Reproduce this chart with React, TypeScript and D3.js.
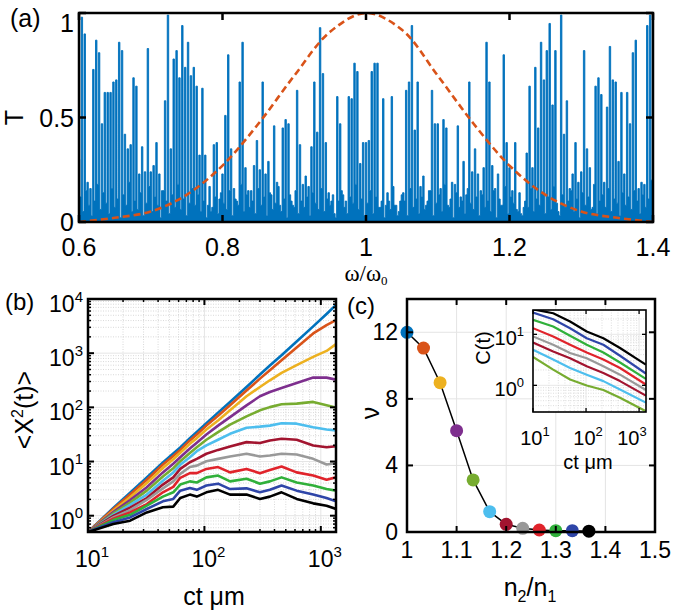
import React from "react";
import * as d3 from "d3";

// ---------------- data: panel (a) ----------------
const transOmegaStart = 0.6;
const transOmegaStep = 0.004;
const transPeaks = [
  0.3, 0.98, 0.9, 0.19, 0.16, 0.73, 0.87, 0.81, 0.47, 0.62, 0.62, 0.62, 0.67, 0.68, 0.86, 0.82, 0.42, 0.35, 0.37, 0.69,
  0.65, 0.23, 0.36, 0.24, 0.83, 0.24, 0.27, 0.38, 0.23, 0.15, 0.58, 0.99, 0.35, 0.78, 0.82, 0.69, 0.94, 0.74, 0.86, 0.7,
  0.74, 0.65, 0.32, 0.64, 0.32, 0.08, 0.05, 0.37, 0.38, 0.11, 0.23,
  0.51, 0.8, 0.35, 0.16, 0.1, 0.67, 0.86, 0.26, 0.15, 0.15, 0.27, 0.39, 0.25, 0.67, 0.23, 0.29, 0.13, 0.46, 0.19,
  0.08, 0.45, 0.49, 0.47, 0.1, 0.07, 0.63, 0.37, 0.18, 0.22, 0.17, 0.36, 0.67, 0.43, 0.93, 0.71, 0.38, 0.14, 0.1, 0.04,
  0.6, 0.47, 0.13, 0.1, 0.6, 0.59, 0.76, 0.72, 0.28, 0.38, 0.38,
  0.39, 0.72, 0.76, 0.76, 0.07, 0.59, 0.08, 0.1, 0.6, 0.08, 0.03, 0.1, 0.14, 0.63, 0.67, 0.94, 0.44, 0.67, 0.17,
  0.22, 0.08, 0.15, 0.63, 0.47, 0.47, 0.16, 0.49, 0.45, 0.07, 0.19, 0.18, 0.46, 0.12, 0.29, 0.13, 0.67, 0.24, 0.35, 0.23,
  0.15, 0.26, 0.86, 0.67, 0.27, 0.16, 0.23, 0.08, 0.8, 0.38, 0.26,
  0.15, 0.38, 0.05, 0.04, 0.07, 0.33, 0.65, 0.26, 0.74, 0.45, 0.86, 0.68, 0.82, 0.95, 0.56, 0.82, 0.05, 0.99, 0.42,
  0.58, 0.16, 0.23, 0.38, 0.19, 0.24, 0.82, 0.35, 0.26, 0.07, 0.65, 0.69, 0.61, 0.19, 0.55, 0.84, 0.68, 0.67, 0.29, 0.62,
  0.23, 0.62, 0.47, 0.81, 0.87, 0.16, 0.19, 0.18, 0.94, 0.99, 0.97,
];
const transDips = [
  0.12, 0.05, 0.15, 0.08, 0.03, 0.1, 0.18, 0.06, 0.14, 0.09, 0.04, 0.16, 0.07, 0.11, 0.02, 0.13, 0.08, 0.19, 0.05, 0.1,
  0.06, 0.14, 0.03, 0.09, 0.17, 0.05, 0.12, 0.08, 0.02, 0.15, 0.1, 0.04, 0.13, 0.07, 0.18, 0.06, 0.11, 0.03, 0.09, 0.16,
  0.08, 0.13, 0.05, 0.1, 0.02, 0.17, 0.07, 0.12, 0.04, 0.14, 0.09, 0.06, 0.15, 0.03, 0.11, 0.08, 0.18, 0.05, 0.13, 0.07,
  0.1, 0.04, 0.16, 0.08, 0.12, 0.03, 0.14, 0.06, 0.09, 0.17, 0.05, 0.11, 0.02, 0.13, 0.08, 0.15, 0.04, 0.1, 0.07, 0.12,
  0.03, 0.14, 0.09, 0.06, 0.16, 0.05, 0.11, 0.08, 0.13, 0.02, 0.1, 0.15, 0.07, 0.04, 0.12, 0.09, 0.18, 0.06, 0.11, 0.03,
  0.09, 0.15, 0.04, 0.12, 0.07, 0.1, 0.02, 0.14, 0.06, 0.17, 0.08, 0.05, 0.13, 0.1, 0.03, 0.16, 0.07, 0.11, 0.04, 0.12,
  0.06, 0.1, 0.15, 0.03, 0.09, 0.13, 0.05, 0.18, 0.08, 0.11, 0.02, 0.14, 0.07, 0.1, 0.04, 0.16, 0.09, 0.06, 0.12, 0.03,
  0.13, 0.07, 0.1, 0.05, 0.15, 0.02, 0.11, 0.08, 0.17, 0.04, 0.12, 0.09, 0.06, 0.14, 0.03, 0.1, 0.07, 0.16, 0.05, 0.11,
  0.08, 0.14, 0.04, 0.12, 0.06, 0.17, 0.09, 0.03, 0.13, 0.07, 0.1, 0.15, 0.05, 0.11, 0.02, 0.14, 0.08, 0.12, 0.06, 0.18,
  0.04, 0.1, 0.13, 0.07, 0.16, 0.05, 0.11, 0.09, 0.03, 0.14, 0.08, 0.12, 0.06, 0.15, 0.1, 0.04, 0.13, 0.07, 0.11, 0.2,
];
const pulseOmega = [0.6, 0.65, 0.7, 0.75, 0.8, 0.85, 0.9, 0.95, 1.0, 1.05, 1.1, 1.15, 1.2, 1.25, 1.3, 1.35, 1.4];
const pulseT = [0.0, 0.02, 0.05, 0.13, 0.27, 0.47, 0.7, 0.91, 1.0, 0.92, 0.7, 0.47, 0.27, 0.13, 0.05, 0.02, 0.0];
const aXTicks = [0.6, 0.8, 1, 1.2, 1.4];
const aXTickLabels = ["0.6", "0.8", "1", "1.2", "1.4"];
const aYTicks = [0, 0.5, 1];
const aYTickLabels = ["0", "0.5", "1"];

// ---------------- data: panel (b) ----------------
const msdCt = [10, 16.5, 23, 32, 44, 54, 62, 75, 86, 104, 131, 166, 230, 300, 365, 460, 620, 860, 1120, 1350];
const msdBlue = [0.5, 1.39, 2.67, 5.1, 9.6, 14.1, 18.2, 27, 35, 51, 80, 126, 238, 403, 591, 918, 1640, 3120, 5280, 7740];
const msdOrange = [0.5, 1.33, 2.45, 4.6, 8.8, 12.7, 16.4, 24.5, 31.6, 46, 70, 109, 204, 339, 484, 742, 1270, 2310, 3300, 4080];
const msdYellow = [0.5, 1.24, 2.19, 4.0, 7.6, 11.0, 14.5, 21.2, 27, 39, 57, 88, 160, 238, 316, 432, 600, 855, 1100, 1470];
const msdPurple = [0.5, 1.17, 1.95, 3.35, 6.3, 9.1, 12.0, 17.4, 22.2, 31.6, 46, 66, 109, 160, 192, 228, 282, 354, 354, 325];
const msdLGreen = [0.5, 1.1, 1.74, 2.9, 5.3, 7.5, 10.1, 14.3, 18.4, 25.2, 35, 48, 68, 88, 101, 114, 117, 126, 109, 99];
const msdCyan = [0.5, 1.04, 1.58, 2.45, 4.4, 6.3, 8.7, 12.0, 15.5, 19.8, 25.2, 32.5, 42, 44, 46, 51, 50, 43, 39, 37.5];
const msdDRed = [0.5, 0.99, 1.41, 2.12, 3.75, 5.1, 7.3, 9.7, 11.2, 13.9, 16.4, 19.0, 22.8, 21.9, 24.5, 26.3, 25.2, 19.8, 18.4, 19.2];
const msdGray = [0.5, 0.93, 1.27, 1.95, 3.2, 4.3, 5.9, 7.9, 8.4, 10.1, 11.2, 12.4, 13.9, 12.4, 12.9, 13.9, 13.5, 11.2, 8.8, 9.3];
const msdRed = [0.5, 0.88, 1.15, 1.64, 2.7, 3.4, 5.0, 6.1, 6.1, 7.3, 7.9, 6.3, 7.3, 6.1, 7.0, 8.1, 6.3, 5.5, 4.6, 5.1];
const msdGreen = [0.5, 0.83, 1.04, 1.53, 2.25, 2.7, 3.75, 4.3, 4.1, 5.1, 5.5, 4.3, 4.8, 3.9, 4.3, 5.1, 4.1, 3.6, 3.1, 2.9];
const msdDBlue = [0.5, 0.76, 0.93, 1.33, 1.84, 2.04, 2.9, 3.25, 3.0, 3.6, 3.9, 3.1, 3.2, 2.7, 3.0, 3.6, 2.9, 2.45, 2.12, 1.84];
const msdBlack = [0.5, 0.7, 0.81, 1.15, 1.43, 1.47, 2.12, 2.45, 2.25, 2.7, 3.0, 2.45, 2.45, 2.04, 2.25, 2.7, 2.04, 1.69, 1.53, 1.33];

// ---------------- data: panel (c) ----------------
const ratioN = [1.0, 1.0333, 1.0667, 1.1, 1.1333, 1.1667, 1.2, 1.2333, 1.2667, 1.3, 1.3333, 1.3667];
const nuValues = [12.0, 11.05, 8.97, 6.09, 3.13, 1.22, 0.46, 0.22, 0.12, 0.08, 0.08, 0.05];
const cXTicks = [1, 1.1, 1.2, 1.3, 1.4, 1.5];
const cXTickLabels = ["1", "1.1", "1.2", "1.3", "1.4", "1.5"];
const cYTicks = [0, 4, 8, 12];

// inset C(t)
const corrCt = [10, 24, 50, 103, 212, 437, 1340];
const corrBlack = [31, 25.9, 17.8, 11.4, 8.4, 5.4, 2.55];
const corrDBlue = [26.7, 19.8, 13.2, 8.4, 6.25, 3.8, 1.7];
const corrGreen = [19.2, 14.2, 9.4, 6.25, 4.4, 2.8, 1.34];
const corrRed = [13.2, 9.1, 6.25, 4.4, 3.2, 2.19, 1.04];
const corrGray = [9.1, 6.25, 4.3, 3.4, 2.36, 1.62, 0.81];
const corrDRed = [6.9, 4.6, 3.4, 2.36, 1.75, 1.21, 0.63];
const corrCyan = [5.0, 3.2, 2.19, 1.62, 1.21, 0.83, 0.46];
const corrLGreen = [3.6, 2.03, 1.3, 0.99, 0.81, 0.57, 0.31];

// ---------------- styles ----------------
const COLORS = [
  "#0072BD", "#D95319", "#EDB120", "#7E2F8E", "#77AC30", "#4DBEEE",
  "#A2142F", "#999999", "#E0232B", "#30B03A", "#2E45A8", "#000000",
];
const FONT = "'Liberation Sans', Arial, Helvetica, sans-serif";
const SERIF = "'Liberation Serif', 'Times New Roman', serif";

const msdSeries = [msdBlue, msdOrange, msdYellow, msdPurple, msdLGreen, msdCyan, msdDRed, msdGray, msdRed, msdGreen, msdDBlue, msdBlack];
const corrSeries = [corrBlack, corrDBlue, corrGreen, corrRed, corrGray, corrDRed, corrCyan, corrLGreen];
const corrColorIdx = [11, 10, 9, 8, 7, 6, 5, 4];

function logTicks(lo: number, hi: number) {
  const major: number[] = [];
  const minor: number[] = [];
  for (let e = Math.floor(Math.log10(lo)); e <= Math.ceil(Math.log10(hi)); e++) {
    for (let m = 1; m < 10; m++) {
      const v = m * Math.pow(10, e);
      if (v < lo * 0.999 || v > hi * 1.001) continue;
      if (m === 1) major.push(v);
      else minor.push(v);
    }
  }
  return { major, minor };
}

function Pow10(props: { x: number; y: number; exp: number; anchor: string; size: number; sup: number }) {
  const { x, y, exp, anchor, size, sup } = props;
  return (
    <text x={x} y={y} textAnchor={anchor as any} fontSize={size} fontFamily={FONT} fill="#000">
      10
      <tspan dy={-size * 0.45} fontSize={sup}>
        {exp}
      </tspan>
    </text>
  );
}

function PanelA() {
  const L = 79, R = 653, T = 13, B = 222;
  const x = d3.scaleLinear().domain([0.6, 1.4]).range([L, R]);
  const y = d3.scaleLinear().domain([0, 1]).range([B, T]);
  // each resonance drawn as a narrow spike; trace falls back to the dip level between spikes
  const half = transOmegaStep * 0.25;
  const pts: [number, number][] = [];
  transPeaks.forEach((t, i) => {
    const w = transOmegaStart + i * transOmegaStep;
    pts.push([w - half, t]);
    pts.push([w + half, i < transDips.length ? transDips[i] : t]);
  });
  const area = d3
    .area<[number, number]>()
    .x((d) => x(d[0]))
    .y0(B)
    .y1((d) => y(d[1]))
    .curve(d3.curveStepAfter);
  const line = d3
    .line<[number, number]>()
    .x((d) => x(d[0]))
    .y((d) => y(d[1]))
    .curve(d3.curveStepAfter);
  const pulse = d3
    .line<number>()
    .x((_, i) => x(pulseOmega[i]))
    .y((d) => y(d))
    .curve(d3.curveCatmullRom);
  const tk = 7;
  return (
    <g>
      <defs>
        <clipPath id="clipA">
          <rect x={L} y={T} width={R - L} height={B - T} />
        </clipPath>
      </defs>
      <g clipPath="url(#clipA)">
        <path d={area(pts) || ""} fill={COLORS[0]} stroke="none" />
        <path d={line(pts) || ""} fill="none" stroke={COLORS[0]} strokeWidth={0.9} />
        <path d={pulse(pulseT) || ""} fill="none" stroke={COLORS[1]} strokeWidth={2.6} strokeDasharray="7,4" />
      </g>
      {aXTicks.map((v, i) => (
        <g key={"ax" + i}>
          <line x1={x(v)} x2={x(v)} y1={B} y2={B - tk} stroke="#000" strokeWidth={2.5} />
          <line x1={x(v)} x2={x(v)} y1={T} y2={T + tk} stroke="#000" strokeWidth={2.5} />
          <text x={x(v)} y={256} textAnchor="middle" fontSize={25} fontFamily={FONT}>
            {aXTickLabels[i]}
          </text>
        </g>
      ))}
      {aYTicks.map((v, i) => (
        <g key={"ay" + i}>
          <line x1={L} x2={L + tk} y1={y(v)} y2={y(v)} stroke="#000" strokeWidth={2.5} />
          <line x1={R} x2={R - tk} y1={y(v)} y2={y(v)} stroke="#000" strokeWidth={2.5} />
          <text x={74} y={Math.max(y(v) + 9, 32)} textAnchor="end" fontSize={25} fontFamily={FONT}>
            {aYTickLabels[i]}
          </text>
        </g>
      ))}
      <rect x={L} y={T} width={R - L} height={B - T} fill="none" stroke="#000" strokeWidth={2.5} />
      <text x={10} y={27} fontSize={25} fontFamily={FONT}>(a)</text>
      <text transform={`translate(23,${(T + B) / 2}) rotate(-90)`} textAnchor="middle" fontSize={25} fontFamily={FONT}>
        T
      </text>
      <text x={366} y={281} textAnchor="middle" fontSize={23} fontFamily={SERIF}>
        ω/ω<tspan dy={4} fontSize={13}>0</tspan>
      </text>
    </g>
  );
}

function PanelB() {
  const L = 88, R = 336, T = 299, B = 532;
  const x = d3.scaleLog().domain([10, 1350]).range([L, R]);
  const y = d3.scaleLog().domain([0.5, 1e4]).range([B, T]);
  const xt = logTicks(10, 1350);
  const yt = logTicks(0.5, 1e4);
  const line = d3
    .line<number>()
    .x((_, i) => x(msdCt[i]))
    .y((d) => y(d));
  return (
    <g>
      <defs>
        <clipPath id="clipB">
          <rect x={L} y={T} width={R - L} height={B - T} />
        </clipPath>
      </defs>
      {xt.minor.map((v, i) => (
        <line key={"bxm" + i} x1={x(v)} x2={x(v)} y1={T} y2={B} stroke="#c8c8c8" strokeWidth={0.7} strokeDasharray="1,1.5" />
      ))}
      {yt.minor.map((v, i) => (
        <line key={"bym" + i} x1={L} x2={R} y1={y(v)} y2={y(v)} stroke="#c8c8c8" strokeWidth={0.7} strokeDasharray="1,1.5" />
      ))}
      {xt.major.map((v, i) => (
        <line key={"bxg" + i} x1={x(v)} x2={x(v)} y1={T} y2={B} stroke="#e2e2e2" strokeWidth={0.9} />
      ))}
      {yt.major.map((v, i) => (
        <line key={"byg" + i} x1={L} x2={R} y1={y(v)} y2={y(v)} stroke="#e2e2e2" strokeWidth={0.9} />
      ))}
      <g clipPath="url(#clipB)">
        {msdSeries.map((s, k) => (
          <path key={"ms" + k} d={line(s) || ""} fill="none" stroke={COLORS[k]} strokeWidth={2.6} strokeLinejoin="round" />
        ))}
      </g>
      {xt.major.map((v, i) => (
        <g key={"bxt" + i}>
          <line x1={x(v)} x2={x(v)} y1={B} y2={B - 6} stroke="#000" strokeWidth={2} />
          <line x1={x(v)} x2={x(v)} y1={T} y2={T + 6} stroke="#000" strokeWidth={2} />
          <Pow10 x={x(v) + 4} y={567} exp={Math.round(Math.log10(v))} anchor="middle" size={23} sup={15} />
        </g>
      ))}
      {xt.minor.map((v, i) => (
        <g key={"bxn" + i}>
          <line x1={x(v)} x2={x(v)} y1={B} y2={B - 3} stroke="#000" strokeWidth={1.5} />
          <line x1={x(v)} x2={x(v)} y1={T} y2={T + 3} stroke="#000" strokeWidth={1.5} />
        </g>
      ))}
      {yt.major.map((v, i) => (
        <g key={"byt" + i}>
          <line x1={L} x2={L + 6} y1={y(v)} y2={y(v)} stroke="#000" strokeWidth={2} />
          <line x1={R} x2={R - 6} y1={y(v)} y2={y(v)} stroke="#000" strokeWidth={2} />
          <Pow10 x={83} y={y(v) + 13} exp={Math.round(Math.log10(v))} anchor="end" size={23} sup={15} />
        </g>
      ))}
      {yt.minor.map((v, i) => (
        <g key={"byn" + i}>
          <line x1={L} x2={L + 3} y1={y(v)} y2={y(v)} stroke="#000" strokeWidth={1.5} />
          <line x1={R} x2={R - 3} y1={y(v)} y2={y(v)} stroke="#000" strokeWidth={1.5} />
        </g>
      ))}
      <rect x={L} y={T} width={R - L} height={B - T} fill="none" stroke="#000" strokeWidth={2.5} />
      <text x={5} y={310} fontSize={24} fontFamily={FONT}>(b)</text>
      <text transform="translate(33,410) rotate(-90)" textAnchor="middle" fontSize={25} fontFamily={FONT}>
        {"<X"}
        <tspan dy={-10} fontSize={16}>2</tspan>
        <tspan dy={10}>{"(t)>"}</tspan>
      </text>
      <text x={214} y={605} textAnchor="middle" fontSize={25} fontFamily={FONT}>
        ct μm
      </text>
    </g>
  );
}

function Inset() {
  const L = 533, R = 646, T = 310, B = 412;
  const x = d3.scaleLog().domain([10, 1350]).range([L, R]);
  const y = d3.scaleLog().domain([0.3, 30]).range([B, T]);
  const xt = logTicks(10, 1350);
  const yt = logTicks(0.3, 30);
  const line = d3
    .line<number>()
    .x((_, i) => x(corrCt[i]))
    .y((d) => y(d));
  return (
    <g>
      <defs>
        <clipPath id="clipI">
          <rect x={L} y={T} width={R - L} height={B - T} />
        </clipPath>
      </defs>
      <rect x={L} y={T} width={R - L} height={B - T} fill="#fff" />
      {xt.minor.map((v, i) => (
        <line key={"ixm" + i} x1={x(v)} x2={x(v)} y1={T} y2={B} stroke="#c8c8c8" strokeWidth={0.6} strokeDasharray="1,1.5" />
      ))}
      {yt.minor.map((v, i) => (
        <line key={"iym" + i} x1={L} x2={R} y1={y(v)} y2={y(v)} stroke="#c8c8c8" strokeWidth={0.6} strokeDasharray="1,1.5" />
      ))}
      {xt.major.map((v, i) => (
        <line key={"ixg" + i} x1={x(v)} x2={x(v)} y1={T} y2={B} stroke="#e2e2e2" strokeWidth={0.8} />
      ))}
      {yt.major.map((v, i) => (
        <line key={"iyg" + i} x1={L} x2={R} y1={y(v)} y2={y(v)} stroke="#e2e2e2" strokeWidth={0.8} />
      ))}
      <g clipPath="url(#clipI)">
        {corrSeries.map((s, k) => (
          <path key={"cs" + k} d={line(s) || ""} fill="none" stroke={COLORS[corrColorIdx[k]]} strokeWidth={2.2} strokeLinejoin="round" />
        ))}
      </g>
      {xt.major.map((v, i) => (
        <g key={"ixt" + i}>
          <line x1={x(v)} x2={x(v)} y1={B} y2={B - 4} stroke="#000" strokeWidth={1.3} />
          <line x1={x(v)} x2={x(v)} y1={T} y2={T + 4} stroke="#000" strokeWidth={1.3} />
          <Pow10 x={Math.min(x(v) + 2, 632)} y={445} exp={Math.round(Math.log10(v))} anchor="middle" size={20} sup={13} />
        </g>
      ))}
      {yt.major.map((v, i) => (
        <g key={"iyt" + i}>
          <line x1={L} x2={L + 4} y1={y(v)} y2={y(v)} stroke="#000" strokeWidth={1.3} />
          <line x1={R} x2={R - 4} y1={y(v)} y2={y(v)} stroke="#000" strokeWidth={1.3} />
          <Pow10 x={524} y={y(v) + 11} exp={Math.round(Math.log10(v))} anchor="end" size={20} sup={13} />
        </g>
      ))}
      <rect x={L} y={T} width={R - L} height={B - T} fill="none" stroke="#000" strokeWidth={1.6} />
      <text transform="translate(490,348) rotate(-90)" textAnchor="middle" fontSize={20} fontFamily={FONT}>
        C(t)
      </text>
      <text x={588} y={469} textAnchor="middle" fontSize={20} fontFamily={FONT}>
        ct μm
      </text>
    </g>
  );
}

function PanelC() {
  const L = 407, R = 655, T = 299, B = 532;
  const x = d3.scaleLinear().domain([1, 1.5]).range([L, R]);
  const y = d3.scaleLinear().domain([0, 14]).range([B, T]);
  const line = d3
    .line<number>()
    .x((_, i) => x(ratioN[i]))
    .y((d) => y(d));
  return (
    <g>
      {cXTicks.slice(1, -1).map((v, i) => (
        <line key={"cxg" + i} x1={x(v)} x2={x(v)} y1={T} y2={B} stroke="#e4e4e4" strokeWidth={1} />
      ))}
      {cYTicks.slice(1).map((v, i) => (
        <line key={"cyg" + i} x1={L} x2={R} y1={y(v)} y2={y(v)} stroke="#e4e4e4" strokeWidth={1} />
      ))}
      <path d={line(nuValues) || ""} fill="none" stroke="#000" strokeWidth={1.5} />
      {nuValues.map((v, i) => (
        <circle key={"pt" + i} cx={x(ratioN[i])} cy={y(v)} r={6.5} fill={COLORS[i]} />
      ))}
      {cXTicks.map((v, i) => (
        <g key={"cxt" + i}>
          <line x1={x(v)} x2={x(v)} y1={B} y2={B - 6} stroke="#000" strokeWidth={2} />
          <line x1={x(v)} x2={x(v)} y1={T} y2={T + 6} stroke="#000" strokeWidth={2} />
          <text x={x(v)} y={558} textAnchor="middle" fontSize={23} fontFamily={FONT}>
            {cXTickLabels[i]}
          </text>
        </g>
      ))}
      {cYTicks.map((v, i) => (
        <g key={"cyt" + i}>
          <line x1={L} x2={L + 6} y1={y(v)} y2={y(v)} stroke="#000" strokeWidth={2} />
          <line x1={R} x2={R - 6} y1={y(v)} y2={y(v)} stroke="#000" strokeWidth={2} />
          <text x={398} y={y(v) + 8} textAnchor="end" fontSize={23} fontFamily={FONT}>
            {String(v)}
          </text>
        </g>
      ))}
      <Inset />
      <rect x={L} y={T} width={R - L} height={B - T} fill="none" stroke="#000" strokeWidth={2.5} />
      <text x={347} y={314} fontSize={24} fontFamily={FONT}>(c)</text>
      <text transform="translate(379,413) rotate(-90)" textAnchor="middle" fontSize={25} fontFamily={FONT}>
        ν
      </text>
      <text x={530} y={596} textAnchor="middle" fontSize={25} fontFamily={FONT}>
        n<tspan dy={6} fontSize={16}>2</tspan>
        <tspan dy={-6}>/n</tspan>
        <tspan dy={6} fontSize={16}>1</tspan>
      </text>
    </g>
  );
}

export default function App() {
  return (
    <svg
      width={675}
      height={612}
      viewBox="0 0 675 612"
      style={{ position: "absolute", left: 0, top: 0, background: "#fff" }}
    >
      <rect x={0} y={0} width={675} height={612} fill="#fff" />
      <PanelA />
      <PanelB />
      <PanelC />
    </svg>
  );
}
